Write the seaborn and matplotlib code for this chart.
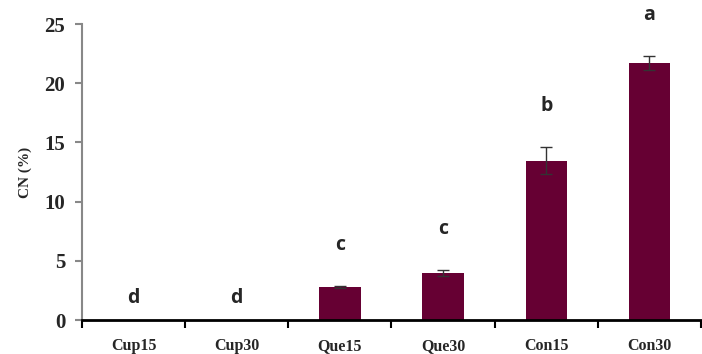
import matplotlib
matplotlib.use("Agg")
import matplotlib.pyplot as plt
import seaborn as sns
import pandas as pd
import numpy as np

categories = ["Cup15", "Cup30", "Que15", "Que30", "Con15", "Con30"]
values = [0.0, 0.0, 2.75, 3.97, 13.45, 21.7]
errors = [0.0, 0.0, 0.08, 0.25, 1.15, 0.6]
letters = ["d", "d", "c", "c", "b", "a"]
yticks = [0, 5, 10, 15, 20, 25]

sns.set_style("white")
plt.rcParams['font.family'] = ['Liberation Serif', 'DejaVu Serif']

df = pd.DataFrame({"cat": categories, "val": values})

fig = plt.figure(figsize=(7.02, 3.54), dpi=100)
ax = fig.add_axes([82/702, 1-320/354, (701-82)/702, (320-24)/354])

sns.barplot(data=df, x="cat", y="val", color="#660033", saturation=1, width=0.4, ax=ax, errorbar=None)
for p in ax.patches:
    p.set_edgecolor("none")
x = np.arange(len(categories))
ax.errorbar(x[2:], values[2:], yerr=errors[2:], fmt="none", ecolor="#333333", elinewidth=1, capsize=4, capthick=1)

for xi, v, e, l in zip(x, values, errors, letters):
    ly = v + e + 3.5 if v > 0 else 1.9
    ax.text(xi, ly, l, ha="center", va="center", fontsize=14, fontweight="bold",
            family=["Open Sans", "DejaVu Sans"], clip_on=False)

ax.set_xlim(-0.5, 5.5)
ax.set_ylim(0, 25)
ax.set_yticks(yticks)
ax.set_yticklabels([str(t) for t in yticks], fontsize=15, fontweight="bold")
ax.set_xticks(x)
ax.set_xticklabels(categories, fontsize=11.5, fontweight="bold")
ax.set_xticks(np.arange(-0.5, 6.0, 1.0), minor=True)
ax.tick_params(axis="x", which="major", length=0, pad=13)
ax.tick_params(axis="x", which="minor", length=6, width=1.5, color="black", direction="out", bottom=True)
ax.tick_params(axis="y", which="major", length=5, width=1.5, color="#888888", direction="out", left=True, pad=7)
ax.set_xlabel("")
ax.set_ylabel("CN (%)", fontsize=11, fontweight="bold", labelpad=9)

ax.spines["top"].set_visible(False)
ax.spines["right"].set_visible(False)
ax.spines["left"].set_color("#888888")
ax.spines["left"].set_linewidth(1.5)
ax.spines["bottom"].set_color("black")
ax.spines["bottom"].set_linewidth(2)

fig.savefig("out.png", dpi=100)
